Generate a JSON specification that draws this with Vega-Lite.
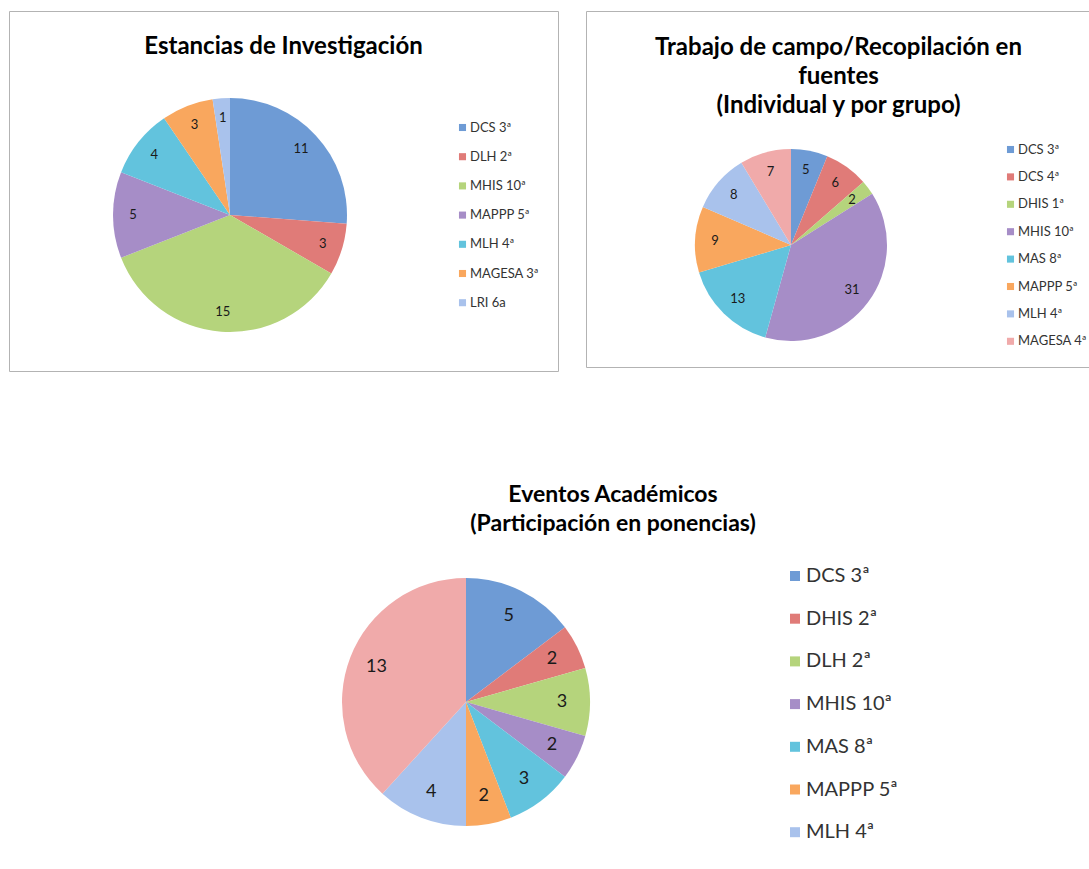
{
  "$schema": "https://vega.github.io/schema/vega-lite/v6.json",
  "background": "white",
  "padding": {"left": 8, "top": 10, "right": 0, "bottom": 0},
  "config": {
    "font": "Lato",
    "view": {"stroke": null},
    "title": {"fontWeight": "bold", "color": "#000000", "anchor": "middle", "frame": "group"},
    "legend": {"symbolType": "square", "labelColor": "#333333", "labelFont": "Lato", "title": null, "orient": "none", "padding": 0}
  },
  "resolve": {"scale": {"color": "independent", "theta": "independent"}, "legend": {"color": "independent"}},
  "spacing": 112,
  "vconcat": [
    {
      "spacing": 26,
      "resolve": {"scale": {"color": "independent", "theta": "independent"}, "legend": {"color": "independent"}},
      "hconcat": [
        {
          "width": 549,
          "height": 360,
          "view": {"stroke": "#b3b3b3", "strokeWidth": 1},
          "title": {"text": "Estancias de Investigación", "fontSize": 24, "offset": -48},
          "data": {"values": [
            {"category": "DCS 3ª", "value": 11, "order": 1},
            {"category": "DLH 2ª", "value": 3, "order": 2},
            {"category": "MHIS 10ª", "value": 15, "order": 3},
            {"category": "MAPPP 5ª", "value": 5, "order": 4},
            {"category": "MLH 4ª", "value": 4, "order": 5},
            {"category": "MAGESA 3ª", "value": 3, "order": 6},
            {"category": "LRI 6a", "value": 1, "order": 7}
          ]},
          "encoding": {
            "theta": {"field": "value", "type": "quantitative", "stack": true},
            "order": {"field": "order", "type": "quantitative"},
            "x": {"datum": 221, "type": "quantitative", "scale": {"domain": [0, 549], "nice": false, "zero": false}, "axis": null},
            "y": {"datum": 204, "type": "quantitative", "scale": {"domain": [0, 360], "nice": false, "zero": false, "reverse": true}, "axis": null}
          },
          "layer": [
            {
              "mark": {"type": "arc", "outerRadius": 117},
              "encoding": {
                "color": {
                  "field": "category", "type": "nominal",
                  "scale": {
                    "domain": ["DCS 3ª", "DLH 2ª", "MHIS 10ª", "MAPPP 5ª", "MLH 4ª", "MAGESA 3ª", "LRI 6a"],
                    "range": ["#6e9bd5", "#e07b78", "#b5d47c", "#a68dc7", "#62c3dd", "#f9a75e", "#a9c2ec"]
                  },
                  "legend": {"legendX": 447, "legendY": 110, "labelFontSize": 13, "symbolSize": 50, "rowPadding": 15.2, "labelOffset": 1}
                }
              }
            },
            {
              "mark": {"type": "text", "radius": 97, "fontSize": 13, "color": "#1a1a1a"},
              "encoding": {"text": {"field": "value", "type": "quantitative"}}
            }
          ]
        },
        {
          "width": 505,
          "height": 356,
          "view": {"stroke": "#b3b3b3", "strokeWidth": 1},
          "title": {"text": ["Trabajo de campo/Recopilación en", "fuentes", "(Individual y por grupo)"], "fontSize": 24, "lineHeight": 29, "offset": -107},
          "data": {"values": [
            {"category": "DCS 3ª", "value": 5, "order": 1},
            {"category": "DCS 4ª", "value": 6, "order": 2},
            {"category": "DHIS 1ª", "value": 2, "order": 3},
            {"category": "MHIS 10ª", "value": 31, "order": 4},
            {"category": "MAS 8ª", "value": 13, "order": 5},
            {"category": "MAPPP 5ª", "value": 9, "order": 6},
            {"category": "MLH 4ª", "value": 8, "order": 7},
            {"category": "MAGESA 4ª", "value": 7, "order": 8}
          ]},
          "encoding": {
            "theta": {"field": "value", "type": "quantitative", "stack": true},
            "order": {"field": "order", "type": "quantitative"},
            "x": {"datum": 205, "type": "quantitative", "scale": {"domain": [0, 505], "nice": false, "zero": false}, "axis": null},
            "y": {"datum": 234, "type": "quantitative", "scale": {"domain": [0, 356], "nice": false, "zero": false, "reverse": true}, "axis": null}
          },
          "layer": [
            {
              "mark": {"type": "arc", "outerRadius": 96},
              "encoding": {
                "color": {
                  "field": "category", "type": "nominal",
                  "scale": {
                    "domain": ["DCS 3ª", "DCS 4ª", "DHIS 1ª", "MHIS 10ª", "MAS 8ª", "MAPPP 5ª", "MLH 4ª", "MAGESA 4ª"],
                    "range": ["#6e9bd5", "#e07b78", "#b5d47c", "#a68dc7", "#62c3dd", "#f9a75e", "#a9c2ec", "#f0aaaa"]
                  },
                  "legend": {"legendX": 418, "legendY": 132, "labelFontSize": 13, "symbolSize": 50, "rowPadding": 13.4, "labelOffset": 1}
                }
              }
            },
            {
              "mark": {"type": "text", "radius": 76, "fontSize": 13, "color": "#1a1a1a"},
              "encoding": {"text": {"field": "value", "type": "quantitative"}}
            }
          ]
        }
      ]
    },
    {
      "width": 1000,
      "height": 315,
      "title": {"text": ["Eventos Académicos", "(Participación en ponencias)"], "fontSize": 23, "lineHeight": 29, "dx": 104, "offset": 10},
      "data": {"values": [
        {"category": "DCS 3ª", "value": 5, "order": 1},
        {"category": "DHIS 2ª", "value": 2, "order": 2},
        {"category": "DLH 2ª", "value": 3, "order": 3},
        {"category": "MHIS 10ª", "value": 2, "order": 4},
        {"category": "MAS 8ª", "value": 3, "order": 5},
        {"category": "MAPPP 5ª", "value": 2, "order": 6},
        {"category": "MLH 4ª", "value": 4, "order": 7},
        {"category": "MAGESA 4ª", "value": 13, "order": 8}
      ]},
      "encoding": {
        "theta": {"field": "value", "type": "quantitative", "stack": true},
        "order": {"field": "order", "type": "quantitative"},
        "x": {"datum": 457, "type": "quantitative", "scale": {"domain": [0, 1000], "nice": false, "zero": false}, "axis": null},
        "y": {"datum": 156, "type": "quantitative", "scale": {"domain": [0, 315], "nice": false, "zero": false, "reverse": true}, "axis": null}
      },
      "layer": [
        {
          "mark": {"type": "arc", "outerRadius": 124},
          "encoding": {
            "color": {
              "field": "category", "type": "nominal",
              "scale": {
                "domain": ["DCS 3ª", "DHIS 2ª", "DLH 2ª", "MHIS 10ª", "MAS 8ª", "MAPPP 5ª", "MLH 4ª", "MAGESA 4ª"],
                "range": ["#6e9bd5", "#e07b78", "#b5d47c", "#a68dc7", "#62c3dd", "#f9a75e", "#a9c2ec", "#f0aaaa"]
              },
              "legend": {"values": ["DCS 3ª", "DHIS 2ª", "DLH 2ª", "MHIS 10ª", "MAS 8ª", "MAPPP 5ª", "MLH 4ª"], "legendX": 776, "legendY": 20, "labelFontSize": 20, "symbolSize": 100, "rowPadding": 22.7, "labelOffset": 1}
            }
          }
        },
        {
          "mark": {"type": "text", "radius": 96, "fontSize": 18, "color": "#1a1a1a"},
          "encoding": {"text": {"field": "value", "type": "quantitative"}}
        }
      ]
    }
  ]
}
